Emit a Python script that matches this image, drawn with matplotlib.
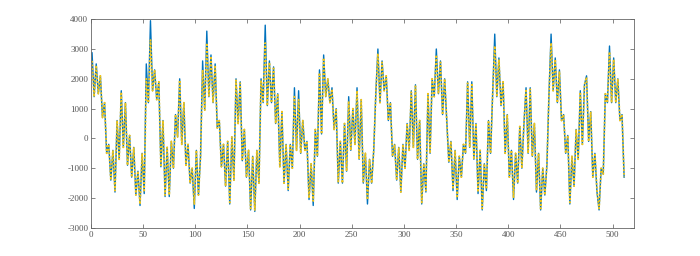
import numpy as np
import matplotlib.pyplot as plt

plt.rcParams['font.family'] = ['Liberation Serif', 'DejaVu Serif']
plt.rcParams['axes.unicode_minus'] = False

# Sample positions (every other sample of the 512 point record)
sample = np.arange(1, 513, 2)

# Original signal (blue, solid)
signal = [
    2870, 1400, 2500, 1500, 2100, 700, 1200, -500,
    -200, -1400, -400, -1800, 600, -700, 1600, -300,
    1200, -900, 100, -1300, -300, -1900, -1100, -2250,
    -500, -1850, 2500, 1200, 3950, 1600, 2300, 1300,
    1900, -950, 600, -1950, -300, -1950, -100, -1000,
    800, 50, 2000, -200, 1200, -900, -200, -1500,
    -1000, -2350, -400, -1900, -600, 2600, 950, 3600,
    1400, 2800, 1200, 2500, 350, 600, -950, -200,
    -1600, -100, -2200, 50, -1400, 2000, 500, 1900,
    -750, 300, -1300, -400, -2400, -600, -2450, -400,
    -1500, 2000, 1200, 3800, 1100, 2600, 1200, 2400,
    500, 1500, -950, 900, -1500, -200, -1750, -200,
    -1000, 1700, -400, 1600, -500, 600, -400, -100,
    -2050, -850, -2250, 300, -600, 2300, 150, 2800,
    1400, 2000, 1200, 1700, 300, 1000, -1500, -100,
    -1500, 500, -1100, 1400, -400, 1000, -200, 1700,
    -700, 1300, -1500, -500, -2200, -700, -1500, -400,
    1500, 3000, 1200, 2600, 1600, 2100, 600, 1200,
    -600, -200, -1400, -300, -1800, -200, -1000, 500,
    -400, 1600, -300, 1800, -700, 600, -2200, -850,
    -1800, 1500, -500, 2000, 1400, 3000, 1500, 2600,
    800, 2000, 600, -800, -100, -1750, -400, -2050,
    -600, -1300, -200, -500, 1900, -300, 1900, -700,
    500, -1850, -400, -2400, -850, -1750, 600, -500,
    1500, 3500, 1400, 2700, 1100, 1900, -500, 800,
    -1300, -400, -2050, -500, -1500, 400, -1000, 500,
    1700, -500, 1700, -600, 500, -1800, -500, -2400,
    -1000, -1900, -900, 1500, 3500, 1600, 2700, 1200,
    2300, 600, 800, -500, 100, -2200, -600, -1600,
    300, -700, 1600, -200, 1800, 2100, -100, 900,
    -1300, -500, -1800, -2400, -1000, -1200, 1500, 1200,
    3100, 1200, 2700, 1200, 2000, 600, 800, -1300,
]

# Reconstructed signal (yellow, dotted)
recon = [
    2600, 1400, 2450, 1500, 2100, 700, 1200, -500,
    -200, -1400, -400, -1750, 600, -700, 1550, -300,
    1200, -900, 100, -1300, -300, -1900, -1100, -2200,
    -500, -1800, 2000, 1200, 3300, 1600, 2300, 1300,
    1900, -950, 600, -1900, -300, -1900, -100, -1000,
    800, 50, 1950, -200, 1200, -900, -200, -1500,
    -1000, -2200, -400, -1900, -600, 2300, 950, 3200,
    1400, 2750, 1200, 2450, 350, 600, -950, -200,
    -1600, -100, -2150, 50, -1400, 1950, 500, 1850,
    -750, 300, -1300, -400, -2350, -600, -2400, -400,
    -1500, 1950, 1200, 3200, 1100, 2550, 1200, 2350,
    500, 1500, -950, 900, -1500, -200, -1700, -200,
    -1000, 1400, -400, 1300, -500, 600, -400, -100,
    -2000, -850, -2100, 300, -600, 2200, 150, 2700,
    1400, 2000, 1200, 1650, 300, 1000, -1450, -100,
    -1500, 500, -1100, 1250, -400, 1000, -200, 1600,
    -700, 1300, -1450, -500, -2050, -700, -1500, -400,
    1500, 2850, 1200, 2550, 1600, 2100, 600, 1200,
    -600, -200, -1400, -300, -1800, -200, -1000, 500,
    -400, 1550, -300, 1750, -700, 600, -2150, -850,
    -1750, 1500, -500, 2000, 1400, 2800, 1500, 2550,
    800, 2000, 600, -800, -100, -1700, -400, -2000,
    -600, -1300, -200, -500, 1850, -300, 1850, -700,
    500, -1800, -400, -2350, -850, -1700, 600, -500,
    1500, 3100, 1400, 2650, 1100, 1900, -500, 800,
    -1300, -400, -2000, -500, -1500, 400, -1000, 500,
    1650, -500, 1650, -600, 500, -1750, -500, -2350,
    -1000, -1900, -900, 1500, 3200, 1600, 2650, 1200,
    2250, 600, 800, -500, 100, -2150, -600, -1600,
    300, -700, 1550, -200, 1800, 2050, -100, 900,
    -1300, -500, -1750, -2350, -1000, -1200, 1500, 1200,
    2900, 1200, 2650, 1200, 2000, 600, 800, -1300,
]

fig = plt.figure(figsize=(7, 2.56), dpi=100)
ax = fig.add_axes([0.13, 0.11, 0.775, 0.815])

ax.plot(sample, signal, color='#0072BD', linewidth=1.0)
ax.plot(sample, recon, color='#F0C419', linestyle=(0, (1, 1)), linewidth=1.3)

ax.set_xlim(0, 520)
ax.set_ylim(-3000, 4000)
ax.set_xticks(np.arange(0, 501, 50))
ax.set_yticks(np.arange(-3000, 4001, 1000))
ax.tick_params(direction='in', top=True, right=True, length=3, width=0.5,
               labelsize=6.5, colors='#555555', pad=2)
for spine in ax.spines.values():
    spine.set_linewidth(0.6)
    spine.set_color('#666666')

fig.savefig('out.png', dpi=100)
